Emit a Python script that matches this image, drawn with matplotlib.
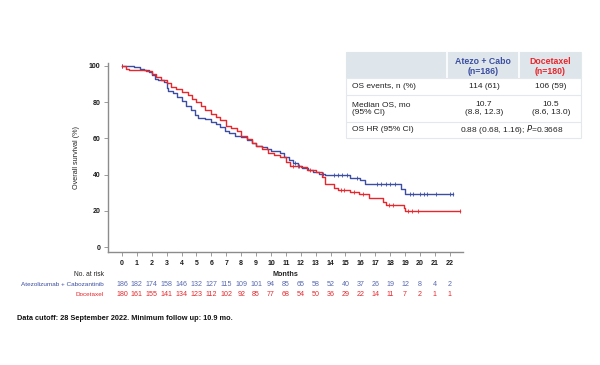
import numpy as np
import matplotlib
matplotlib.use("Agg")
import matplotlib.pyplot as plt
from matplotlib import font_manager
from matplotlib.transforms import blended_transform_factory

# ------------------------------
# Data
# ------------------------------
arm_names = ["Atezolizumab + Cabozantinib", "Docetaxel"]

# step curves: time (months) and survival (%) after each drop
atezo_times = [0, 0.8, 1.2, 1.5, 1.8, 2.0, 2.2, 2.4, 2.8, 3.0, 3.1, 3.4, 3.7, 4.0, 4.3,
               4.6, 4.9, 5.1, 5.6, 6.0, 6.3, 6.6, 6.9, 7.2, 7.6, 8.0, 8.4, 8.7, 9.0,
               9.4, 9.7, 10.0, 10.6, 10.9, 11.2, 11.5, 11.8, 12.1, 12.5, 12.8, 13.2,
               13.6, 15.3, 16.0, 16.3, 18.7, 19.0, 22.2]
atezo_surv = [100, 99.5, 98.5, 97.5, 96.5, 95, 93, 92, 91, 88, 86, 85, 83, 80.5, 78,
              75.5, 73, 71, 70.5, 69, 68, 66.5, 64, 63, 61.5, 60.5, 59, 57.5, 56,
              55, 54, 53, 52, 49.5, 48, 46.5, 45, 43.5, 42.5, 41.5, 40.5,
              39.5, 38, 37, 35, 32.2, 29.4, 29.4]
atezo_censor = [0, 11.6, 11.9, 13.5, 14.2, 14.5, 14.8, 15.1, 15.8, 17.1, 17.4, 17.7,
                18.0, 18.3, 19.3, 19.55, 20.0, 20.3, 20.5, 21.1, 22.0, 22.2]

doce_times = [0, 0.3, 0.5, 1.6, 2.0, 2.3, 2.6, 3.0, 3.3, 3.6, 4.0, 4.4, 4.7, 5.0, 5.3,
              5.6, 6.0, 6.3, 6.6, 7.0, 7.3, 7.7, 8.0, 8.4, 8.7, 9.0, 9.4, 9.8, 10.2,
              10.6, 11.0, 11.3, 12.0, 12.4, 13.0, 13.4, 13.6, 14.2, 14.5, 15.3, 15.9,
              16.6, 17.5, 17.7, 18.9, 19.0, 22.7]
doce_surv = [100, 98.5, 97.5, 97, 95.5, 94, 92.5, 90.5, 88.5, 87, 85.5, 84, 82, 80, 78,
             75.5, 73.5, 72, 70, 67, 65.5, 64, 61.5, 59.5, 57.5, 56, 54, 52, 51,
             49.5, 47, 45, 44, 42.5, 41.5, 38.9, 34.6, 32.8, 31.5, 30.6, 29.1,
             27.3, 25.1, 23.2, 21.5, 20.1, 20.1]
doce_censor = [0, 11.5, 11.8, 12.6, 14.7, 14.9, 15.6, 16.2, 17.9, 18.2, 19.2, 19.5,
               19.9, 22.7]

month_ticks = list(range(0, 23))
atezo_at_risk = [186, 182, 174, 158, 146, 132, 127, 115, 109, 101, 94, 85, 65, 58,
                 52, 40, 37, 26, 19, 12, 8, 4, 2]
doce_at_risk = [180, 161, 155, 141, 134, 123, 112, 102, 92, 85, 77, 68, 54, 50,
                36, 29, 22, 14, 11, 7, 2, 1, 1]

table_header = ["Atezo + Cabo\n(n=186)", "Docetaxel\n(n=180)"]
table_rows = ["OS events, n (%)", "Median OS, mo\n(95% CI)", "OS HR (95% CI)"]
table_atezo = ["114 (61)", "10.7\n(8.8, 12.3)"]
table_doce = ["106 (59)", "10.5\n(8.6, 13.0)"]
table_hr = "0.88 (0.68, 1.16); $\\it{P}$=0.3668"

footnote = "Data cutoff: 28 September 2022. Minimum follow up: 10.9 mo."

BLUE = "#3b4ea2"
BLUE_TXT = "#5868b0"
RED = "#e8262b"
GREY = "#8c8c8c"

names = {f.name for f in font_manager.fontManager.ttflist}
FONT = "Liberation Sans" if "Liberation Sans" in names else "DejaVu Sans"
NARROW = "Liberation Sans Narrow" if "Liberation Sans Narrow" in names else FONT
plt.rcParams["font.family"] = FONT

W, H = 600, 365
fig = plt.figure(figsize=(6, 3.65), dpi=100)

# ------------------------------
# KM axes
# ------------------------------
ax = fig.add_axes([108 / W, 1 - 252 / H, (463 - 108) / W, (252 - 62.7) / H])
ax.set_xlim(-0.94, 22.89)
ax.set_ylim(-2.76, 101.8)


def surv_at(times, surv, t):
    i = np.searchsorted(times, t, side="right") - 1
    return surv[max(i, 0)]


for times, surv, cens, col in [(atezo_times, atezo_surv, atezo_censor, BLUE),
                               (doce_times, doce_surv, doce_censor, RED)]:
    ax.step(times, surv, where="post", color=col, lw=1.0, zorder=3)
    cy = [surv_at(times, surv, t) for t in cens]
    ax.plot(cens, cy, ls="none", marker="|", ms=3.2, mew=0.6, color=col, zorder=4)

for s in ["top", "right"]:
    ax.spines[s].set_visible(False)
for s in ["left", "bottom"]:
    ax.spines[s].set_color(GREY)
    ax.spines[s].set_linewidth(1.0)

ax.set_yticks([0, 20, 40, 60, 80, 100])
ax.set_xticks(month_ticks)
ax.tick_params(axis="both", length=3, width=0.6, color=GREY, labelsize=5,
               pad=2.5, labelcolor="#1a1a1a")
for lab in ax.get_xticklabels() + ax.get_yticklabels():
    lab.set_fontweight("bold")

ax.set_ylabel("Overall survival (%)", fontsize=5.2, color="#222222", labelpad=6)
ax.set_xlabel("Months", fontsize=5.2, fontweight="bold", color="#222222", labelpad=3)

# ------------------------------
# Numbers at risk
# ------------------------------
tr = blended_transform_factory(ax.transData, fig.transFigure)
for vals, col, y in [(atezo_at_risk, BLUE_TXT, 285), (doce_at_risk, RED, 295)]:
    for m, v in zip(month_ticks, vals):
        ax.text(m, 1 - y / H, str(v), transform=tr, ha="center", va="center",
                fontsize=5.1, color=col, family=NARROW)

fig.text(104 / W, 1 - 274 / H, "No. at risk", ha="right", va="center",
         fontsize=4.8, color="#222222", family=NARROW)
fig.text(104 / W, 1 - 285 / H, arm_names[0], ha="right", va="center",
         fontsize=4.6, color=BLUE, family=NARROW)
fig.text(104 / W, 1 - 295 / H, arm_names[1], ha="right", va="center",
         fontsize=4.6, color=RED, family=NARROW)

fig.text(17 / W, 1 - 319 / H, footnote, ha="left", va="center", fontsize=5.3,
         fontweight="bold", color="#111111", family=NARROW)

# ------------------------------
# Summary table (pixel coordinates inside an overlay axes)
# ------------------------------
tx0, tx1, ty0, ty1 = 346, 581, 52, 138
tab = fig.add_axes([tx0 / W, 1 - ty1 / H, (tx1 - tx0) / W, (ty1 - ty0) / H])
tab.set_xlim(0, tx1 - tx0)
tab.set_ylim(ty1 - ty0, 0)
tab.axis("off")

c1, c2 = 447 - tx0, 519 - tx0
rows_y = [0, 26.3, 43, 69.7, 86]
HEAD_BG = "#dfe6eb"
tab.add_patch(plt.Rectangle((0, 0), tx1 - tx0, 86, facecolor="white",
                            edgecolor="#e3e8ec", lw=0.8, clip_on=False))
tab.add_patch(plt.Rectangle((0, 0), tx1 - tx0, rows_y[1], facecolor=HEAD_BG,
                            edgecolor="none", clip_on=False))
for cx in [c1, c2]:
    tab.plot([cx, cx], [0, rows_y[1]], color="white", lw=1.2)
for ry in rows_y[1:4]:
    tab.plot([0, tx1 - tx0], [ry, ry], color="#e3e8ec", lw=0.8)

mid2 = (c1 + c2) / 2
mid3 = (c2 + tx1 - tx0) / 2
tab.text(mid2, 14.5, table_header[0], ha="center", va="center", fontsize=6.3,
         fontweight="bold", color=BLUE, linespacing=1.05)
tab.text(mid3, 14.5, table_header[1], ha="center", va="center", fontsize=6.3,
         fontweight="bold", color=RED, linespacing=1.05)

for i, lab in enumerate(table_rows):
    yc = (rows_y[i + 1] + rows_y[i + 2]) / 2
    tab.text(6, yc, lab, ha="left", va="center", fontsize=6, color="#222222",
             linespacing=1.15)
    if i < 2:
        tab.text(mid2 + 1, yc, table_atezo[i], ha="center", va="center", fontsize=6,
                 color="#222222", linespacing=1.15)
        tab.text(mid3 + 1, yc, table_doce[i], ha="center", va="center", fontsize=6,
                 color="#222222", linespacing=1.15)
    else:
        tab.text((c1 + tx1 - tx0) / 2 - 2, yc, table_hr, ha="center", va="center",
                 fontsize=6, color="#222222")

fig.savefig("out.png", dpi=100)
